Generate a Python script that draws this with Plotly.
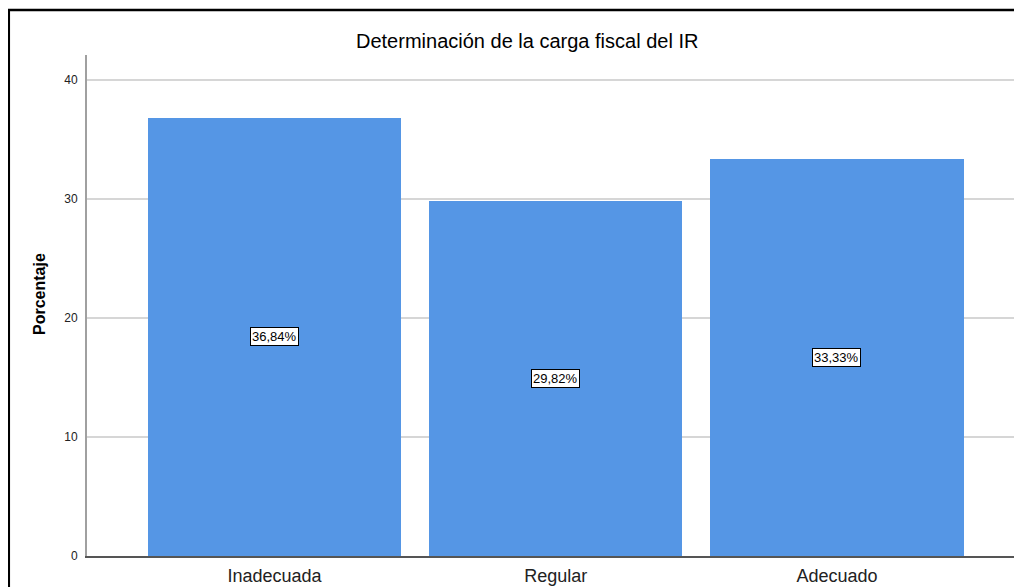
import plotly.graph_objects as go

categories = ["Inadecuada", "Regular", "Adecuado"]
values = [36.84, 29.82, 33.33]
y_ticks = [0, 10, 20, 30, 40]
title_text = "Determinación de la carga fiscal del IR"
y_title = "Porcentaje"

bar_color = "#5596E5"
font_main = "Liberation Sans, Arial, sans-serif"

fig = go.Figure()
fig.add_trace(go.Bar(
    x=list(range(len(categories))),
    y=values,
    width=0.9,
    marker=dict(color=bar_color, line=dict(width=0)),
    hoverinfo="skip",
))

# page has an 8px body margin; figure coords = page coords - 8
W, H = 1014, 579
L, R, T, B = 79, 0, 47, 31
pw = W - L - R
ph = H - T - B

def px_x(p):
    return (p - L) / pw

def px_y(p):
    return (H - B - p) / ph

annotations = []
for i, v in enumerate(values):
    annotations.append(dict(
        x=i, y=v / 2, xref="x", yref="y",
        text=f"{v:.2f}".replace(".", ",") + "%",
        showarrow=False,
        font=dict(family=font_main, size=13, color="#000"),
        bgcolor="white", bordercolor="#000", borderwidth=1, borderpad=1,
    ))

annotations.append(dict(
    x=px_x(519), y=px_y(33), xref="paper", yref="paper",
    text=title_text, showarrow=False,
    font=dict(family=font_main, size=20, color="#000"),
    xanchor="center", yanchor="middle",
))
annotations.append(dict(
    x=px_x(31), y=px_y(286), xref="paper", yref="paper",
    text=f"<b>{y_title}</b>", showarrow=False, textangle=-90,
    font=dict(family=font_main, size=16, color="#000"),
    xanchor="center", yanchor="middle",
))

shapes = [
    dict(type="line", xref="paper", yref="paper",
         x0=px_x(0.8), x1=px_x(0.8), y0=px_y(1), y1=px_y(600),
         line=dict(color="#000", width=2.5)),
    dict(type="line", xref="paper", yref="paper",
         x0=px_x(0), x1=px_x(1040), y0=px_y(2), y1=px_y(2),
         line=dict(color="#000", width=2.5)),
]

fig.update_layout(
    width=W, height=H,
    margin=dict(l=L, r=R, t=T, b=B, autoexpand=False),
    paper_bgcolor="white", plot_bgcolor="white",
    showlegend=False,
    bargap=0,
    annotations=annotations,
    shapes=shapes,
    xaxis=dict(
        range=[-0.667, 2.658],
        tickmode="array",
        tickvals=list(range(len(categories))),
        ticktext=categories,
        tickfont=dict(family=font_main, size=18, color="#222"),
        ticks="", showgrid=False, zeroline=False,
        showline=True, linecolor="#555", linewidth=2,
        automargin=False,
        ticklabelstandoff=2,
    ),
    yaxis=dict(
        range=[0, 42.1],
        tickmode="array",
        tickvals=y_ticks,
        tickfont=dict(family=font_main, size=12, color="#222"),
        ticks="", showgrid=True, gridcolor="#d6d6d6", gridwidth=1.5,
        zeroline=False,
        showline=True, linecolor="#a0a0a0", linewidth=2,
        automargin=False,
        ticklabelstandoff=5,
    ),
)

fig.write_html("out.html")
